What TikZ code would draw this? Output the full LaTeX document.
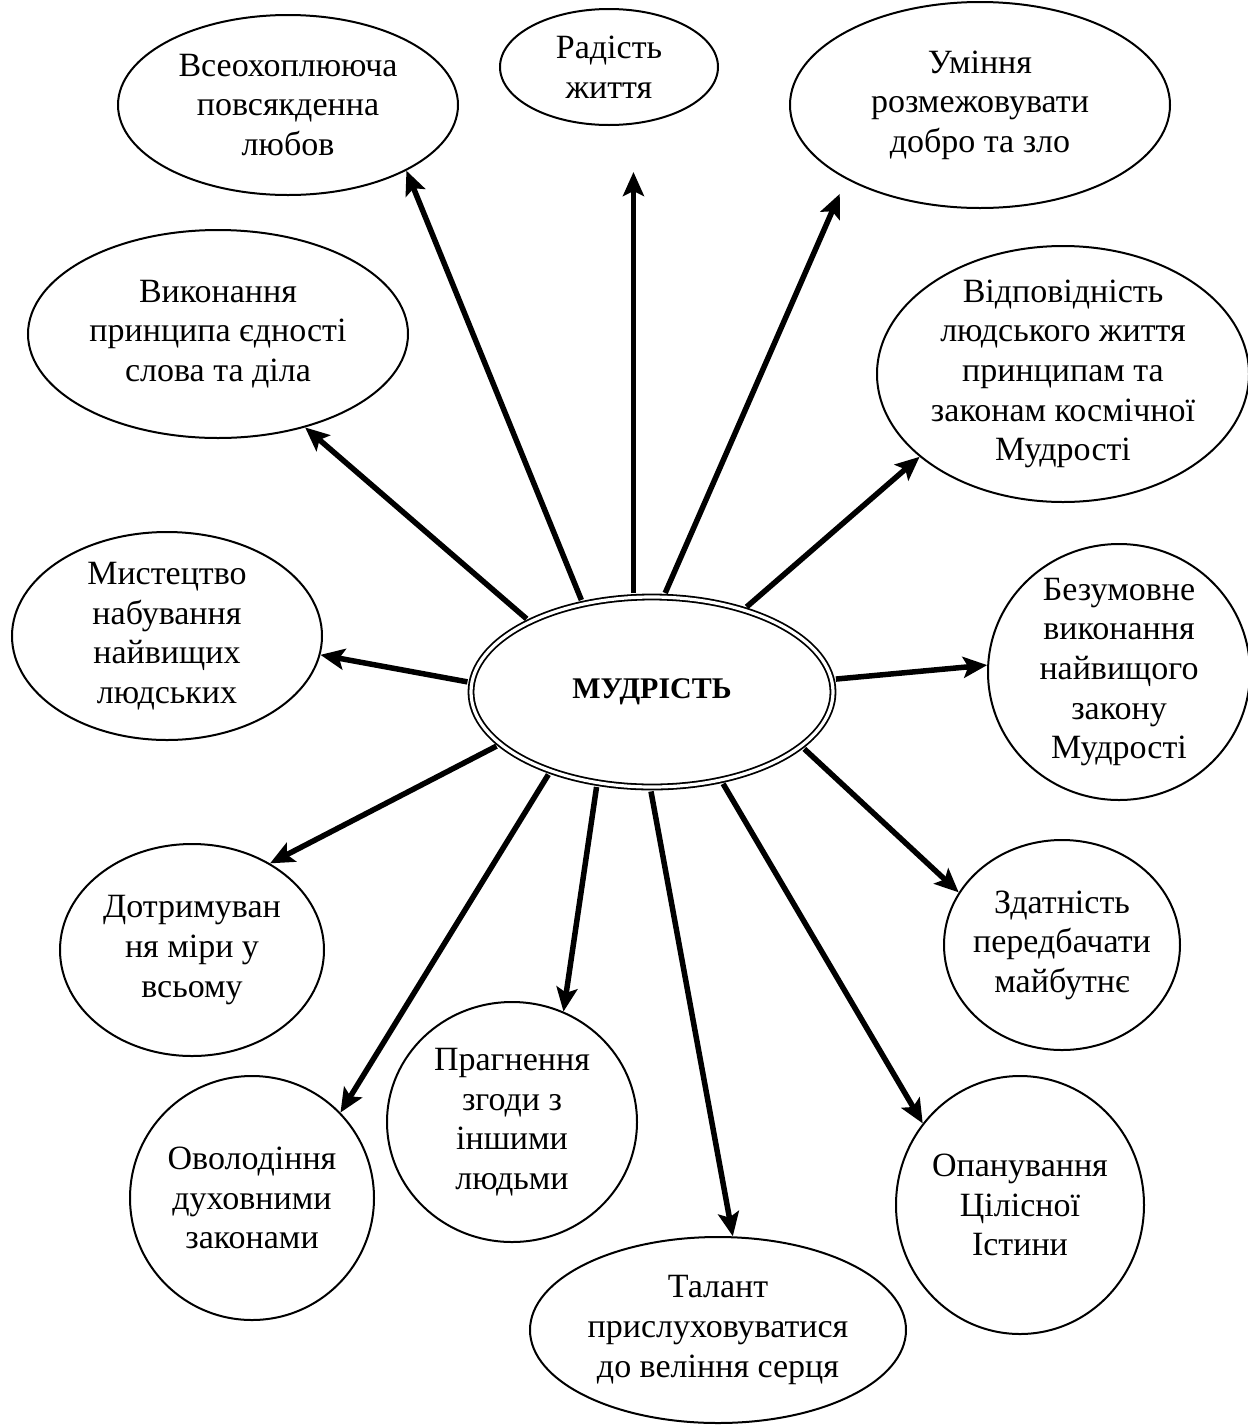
\documentclass[tikz,border=0pt]{standalone}
\usepackage{fontspec}
\setmainfont{Liberation Serif}
\usetikzlibrary{shapes.geometric,arrows.meta}

\tikzset{every picture/.style={line width=1pt}}
\tikzset{
	bub/.style={ellipse, draw, fill=white, inner sep=-8pt, align=center, font=\fontsize{17}{19.8}\selectfont},
	core/.style={ellipse, draw, double, line width=0.9pt, double distance=1.6pt, fill=white, inner sep=0pt, font=\fontsize{15}{18}\selectfont\bfseries},
	arr/.style={line width=2.75pt, shorten <=1.8pt, -{Stealth[length=12pt,width=10.5pt,inset=2.5pt]}}
}

\begin{document}
\begin{tikzpicture}[x=0.5pt,y=0.5pt,yscale=-1,xscale=1]
				%set diagram left start at 0, and has height of 1425
				\useasboundingbox (0,0) rectangle (1248,1425);
				
				%Shape: Ellipse [center]
				\node [core, minimum width=181pt, minimum height=95pt] (mud) at (652,692) {МУДРІСТЬ};
				
				%Shape: Ellipse
				\node [bub, minimum width=170pt, minimum height=90pt] (lov) at (288,105) {Всеохоплююча\\повсякденна\\любов};
				%Shape: Ellipse
				\node [bub, minimum width=109pt, minimum height=58pt] (rad) at (609,67) {Радість\\життя};
				%Shape: Ellipse
				\node [bub, minimum width=190pt, minimum height=103pt] (dob) at (980,105) {Уміння\\розмежовувати\\добро та зло};
				%Shape: Ellipse
				\node [bub, minimum width=190pt, minimum height=104pt] (sl) at (218,334) {Виконання\\принципа єдності\\слова та діла};
				%Shape: Ellipse
				\node [bub, minimum width=186pt, minimum height=128pt] (kos) at (1063,374) {Відповідність\\людського життя\\принципам та\\законам космічної\\Мудрості};
				%Shape: Ellipse
				\node [bub, minimum width=155pt, minimum height=104pt] (mys) at (167,636) {Мистецтво\\набування\\найвищих\\людських};
				%Shape: Ellipse
				\node [bub, minimum width=131pt, minimum height=128pt] (zak) at (1119,672) {Безумовне\\виконання\\найвищого\\закону\\Мудрості};
				%Shape: Ellipse
				\node [bub, minimum width=132pt, minimum height=106pt] (mir) at (192,950) {Дотримуван\\ня міри у\\всьому};
				%Shape: Ellipse
				\node [bub, minimum width=118pt, minimum height=105pt] (mai) at (1062,945) {Здатність\\передбачати\\майбутнє};
				%Shape: Ellipse
				\node [bub, minimum width=125pt, minimum height=120pt] (zg) at (512,1122) {Прагнення\\згоди з\\іншими\\людьми};
				%Shape: Ellipse
				\node [bub, minimum width=122pt, minimum height=122pt] (duh) at (252,1198) {Оволодіння\\духовними\\законами};
				%Shape: Ellipse
				\node [bub, minimum width=124pt, minimum height=129pt] (ist) at (1020,1205) {Опанування\\Цілісної\\Істини};
				%Shape: Ellipse
				\node [bub, minimum width=188pt, minimum height=93pt] (ser) at (718,1330) {Талант\\прислуховуватися\\до веління серця};
				
				%Straight Lines
				\draw [arr] (mud.128) -- (lov.331);
				%Straight Lines
				\draw [arr, shorten >=23pt] (mud.101) -- (mud.101 |- rad.south);
				%Straight Lines
				\draw [arr, shorten >=8pt] (mud.83) -- (dob.209);
				%Straight Lines
				\draw [arr] (mud.150) -- (sl.313);
				%Straight Lines
				\draw [arr] (mud.42) -- (kos.210);
				%Straight Lines
				\draw [arr] (mud.177) -- (mys.353);
				%Straight Lines
				\draw [arr] (mud.4) -- (zak.177);
				%Straight Lines
				\draw [arr] (mud.199) -- (mir.48);
				%Straight Lines
				\draw [arr] (mud.340) -- (mai.153);
				%Straight Lines
				\draw [arr] (mud.239) -- (zg.65);
				%Straight Lines
				\draw [arr] (mud.218) -- (duh.44);
				%Straight Lines
				\draw [arr] (mud.308) -- (ist.140);
				%Straight Lines
				\draw [arr] (mud.269) -- (ser.81);
				
\end{tikzpicture}
\end{document}
